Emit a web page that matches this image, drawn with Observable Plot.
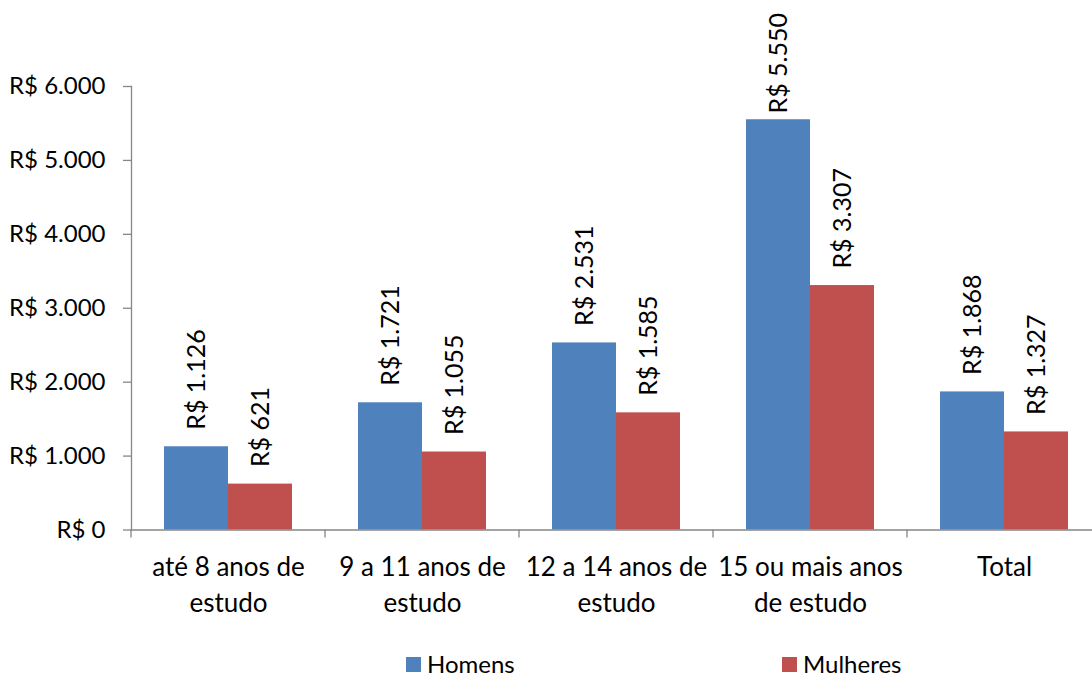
<!DOCTYPE html>
<html>
<head>
<meta charset="utf-8">
<script src="https://cdn.jsdelivr.net/npm/d3@7"></script>
<script src="https://cdn.jsdelivr.net/npm/@observablehq/plot@0.6"></script>
<style>
  body { margin: 0; background: #fff; font-family: Lato, "Open Sans", sans-serif; }
  #chart { position: relative; width: 1092px; height: 679px; overflow: hidden; }
  .legend { position: absolute; top: 650px; left: 0; width: 1092px; height: 28px; font-size: 24px; line-height: 28px; color: #000; }
  .legend .item { position: absolute; top: 0; display: flex; align-items: center; height: 28px; }
  .legend .swatch { width: 15px; height: 15px; margin-right: 6px; }
</style>
</head>
<body>
<div id="chart"></div>
<script>
// Renda média mensal por sexo e anos de estudo
const categories = ["até 8 anos de estudo", "9 a 11 anos de estudo", "12 a 14 anos de estudo", "15 ou mais anos de estudo", "Total"];
const categoryLabels = ["até 8 anos de\nestudo", "9 a 11 anos de\nestudo", "12 a 14 anos de\nestudo", "15 ou mais anos\nde estudo", "Total"];
const series = ["Homens", "Mulheres"];
const homens = [1126, 1721, 2531, 5550, 1868];
const mulheres = [621, 1055, 1585, 3307, 1327];
const seriesColors = ["#4F81BD", "#C0504D"];
const yTicks = [0, 1000, 2000, 3000, 4000, 5000, 6000];

const rows = categories.flatMap((c, i) => [
  {categoria: c, sexo: series[0], valor: homens[i]},
  {categoria: c, sexo: series[1], valor: mulheres[i]}
]);

// Brazilian currency: "R$ 1.126"
const brl = d3.formatLocale({decimal: ",", thousands: ".", grouping: [3], currency: ["R$ ", ""]}).format("$,.0f");

const axisColor = "#868686";
const labelTopLimit = 13; // value labels are kept inside the chart area

// short tick under the baseline at the left edge of each group
const groupTicks = (index, scales, values, dims) => {
  const y0 = scales.y(0);
  const g = d3.create("svg:g");
  g.append("line")
    .attr("x1", dims.marginLeft).attr("x2", dims.marginLeft)
    .attr("y1", y0).attr("y2", y0 + 8)
    .attr("stroke", axisColor).attr("stroke-width", 1.3);
  return g.node();
};

const plot = Plot.plot({
  width: 1092,
  height: 640,
  marginTop: 86,
  marginBottom: 110.5,
  marginLeft: 130,
  marginRight: 0,
  style: {fontFamily: "Lato, 'Open Sans', sans-serif", fontSize: "24px", color: "#000", background: "#fff"},
  fx: {domain: categories, range: [130, 1102], padding: 0, label: null},
  x: {domain: series, paddingInner: 0, paddingOuter: 0.495, axis: null},
  y: {domain: [0, 6000], range: [529.5, 86], label: null},
  color: {domain: series, range: seriesColors},
  marks: [
    Plot.frame({anchor: "left", facetAnchor: "left", stroke: axisColor, strokeWidth: 1.3}),
    Plot.axisY({ticks: yTicks, tickSize: 8, tickPadding: 18, tickFormat: brl, stroke: axisColor, strokeWidth: 1.3, fill: "#000", label: null}),
    Plot.axisFx({anchor: "bottom", tickSize: 0, tickPadding: 20, lineHeight: 1.4, fill: "#000", fontSize: 26,
      tickFormat: d => categoryLabels[categories.indexOf(d)], label: null}),
    Plot.barY(rows, {fx: "categoria", x: "sexo", y: "valor", fill: "sexo"}),
    Plot.text(rows, {fx: "categoria", x: "sexo", y: "valor", text: d => brl(d.valor),
      rotate: -90, textAnchor: "start", dy: -17, fill: "#000", fontSize: 25, className: "value-label"}),
    Plot.ruleY([0], {stroke: axisColor, strokeWidth: 1.3}),
    groupTicks
  ]
});

const chart = document.getElementById("chart");
chart.appendChild(plot);

// push down any value label that would run past the top of the chart
const svgTop = plot.getBoundingClientRect().top;
plot.querySelectorAll(".value-label text").forEach(t => {
  const top = t.getBoundingClientRect().top - svgTop;
  if (top < labelTopLimit) {
    const shift = labelTopLimit - top;
    t.setAttribute("transform", `translate(0,${shift}) ` + (t.getAttribute("transform") || ""));
  }
});

const legend = document.createElement("div");
legend.className = "legend";
const legendLeft = [406, 782];
series.forEach((s, i) => {
  const item = document.createElement("div");
  item.className = "item";
  item.style.left = legendLeft[i] + "px";
  const sw = document.createElement("span");
  sw.className = "swatch";
  sw.style.background = seriesColors[i];
  const label = document.createElement("span");
  label.textContent = s;
  item.append(sw, label);
  legend.appendChild(item);
});
chart.appendChild(legend);
</script>
</body>
</html>
